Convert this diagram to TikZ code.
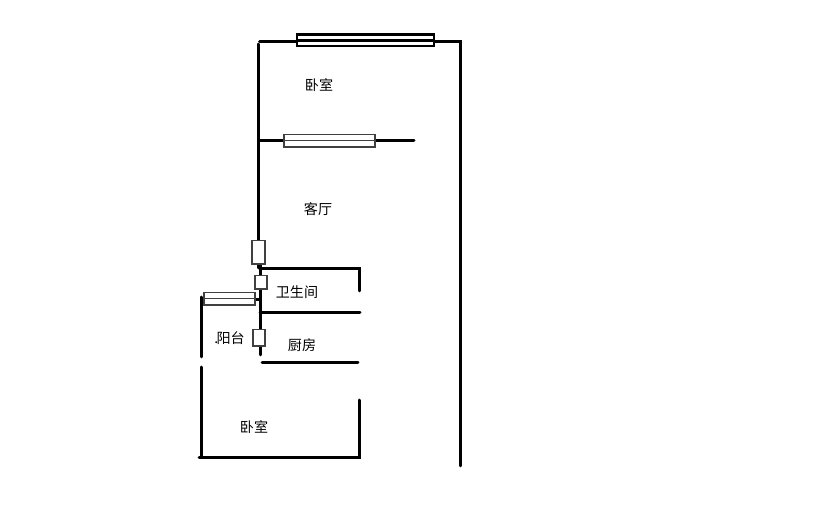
\documentclass[tikz,border=0pt]{standalone}
\usepackage{fontspec}
\newfontfamily\cjk{Noto Sans CJK SC}
\tikzset{
  wall/.style={line width=1.7pt, black, line cap=round},
  frame/.style={draw=black!75, line width=0.6pt, fill=white},
  room/.style={font=\cjk\fontsize{8}{8}\selectfont, inner sep=0pt}
}
\begin{document}
\begin{tikzpicture}[x=0.02cm, y=-0.02cm]
\useasboundingbox (0,0) rectangle (814,519);

% --- Outer walls ---
\draw[wall] (259.5,41.5) -- (460.5,41.5) -- (460.5,466);
\draw[wall] (258.5,44) -- (258.5,268);
\draw[wall] (260.5,264) -- (260.5,355);

% Inner wall with the middle window
\draw[wall] (259,140.5) -- (414,140.5);

% Bathroom
\draw[wall] (260,268.5) -- (359.5,268.5) -- (359.5,291);
\draw[wall] (260,312.5) -- (360,312.5);

% Kitchen
\draw[wall] (262,362.5) -- (358,362.5);

% Bedroom and balcony
\draw[wall] (201.5,297) -- (201.5,357);
\draw[wall] (201.5,367) -- (201.5,457);
\draw[wall] (199,457.5) -- (359.5,457.5) -- (359.5,400);
\draw[wall] (255,299.5) -- (260,299.5);

% Top window has the heavier outline
\draw[frame, draw=black, line width=1.2pt] (297,34.5) rectangle (434,46);
\draw[line width=1.2pt] (297,40.5) -- (434,40.5);

% Other windows, with a line through the middle (x0, y0, x1, y1)
\foreach \xa/\ya/\xb/\yb in {284/134.5/375/147, 204/292.5/255/305} {
    \draw[frame] (\xa,\ya) rectangle (\xb,\yb);
    \draw[black!75, line width=0.6pt] (\xa,{(\ya+\yb)/2}) -- (\xb,{(\ya+\yb)/2});
}

% Doors
\foreach \xa/\ya/\xb/\yb in {252/240.5/265/264, 255/275.5/267/289, 253/329.5/265/346} {
    \draw[frame] (\xa,\ya) rectangle (\xb,\yb);
}

% --- Room labels ---
\node[room] (bedroomtop) at (319,85) {卧室};
\node[room] (livingroom) at (318,209) {客厅};
\node[room] (bathroom) at (297,292) {卫生间};
\node[room] (balcony) at (229.5,338) {.\kern-1pt 阳台};
\node[room] (kitchen) at (302,345) {厨房};
\node[room] (bedroombottom) at (254,427) {卧室};

\end{tikzpicture}
\end{document}
